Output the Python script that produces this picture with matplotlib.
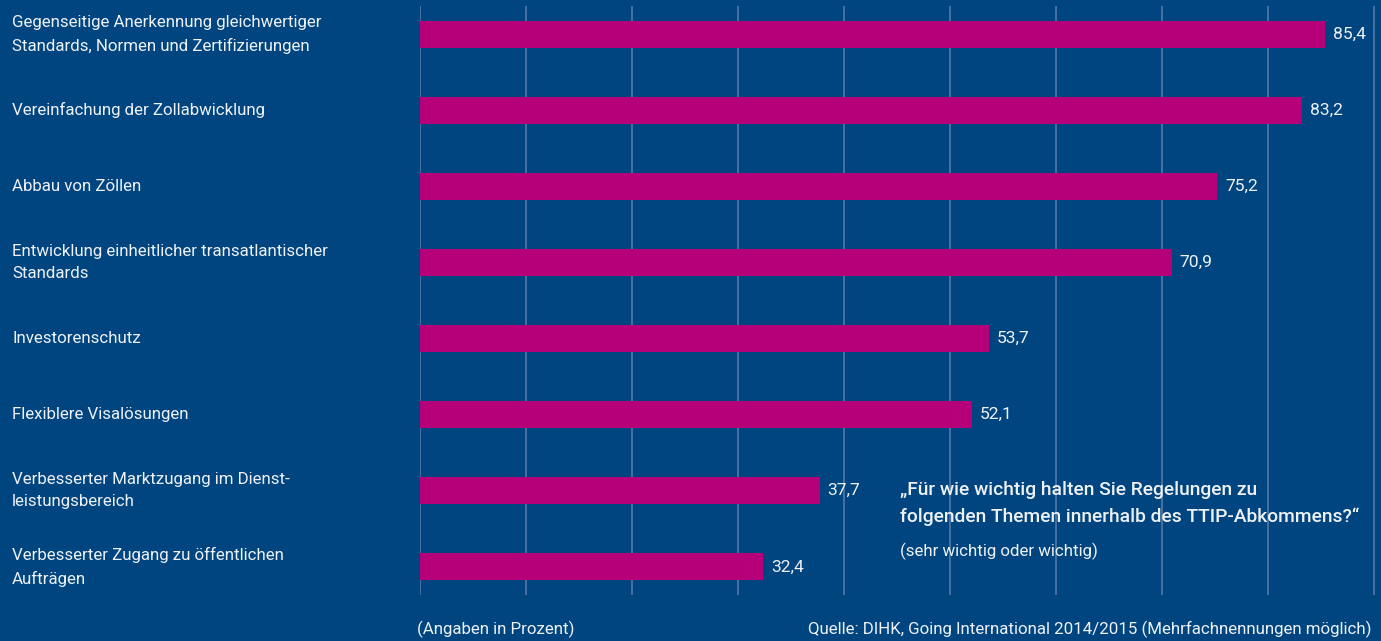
"""
TTIP survey bar chart (DIHK, Going International 2014/2015).
Horizontal bars on the dark blue house style background.
"""

import matplotlib
matplotlib.use("Agg")
import matplotlib.pyplot as plt
import matplotlib.transforms as mtransforms

# --- DATA ---
categories = [
    "Gegenseitige Anerkennung gleichwertiger\nStandards, Normen und Zertifizierungen",
    "Vereinfachung der Zollabwicklung",
    "Abbau von Zöllen",
    "Entwicklung einheitlicher transatlantischer\nStandards",
    "Investorenschutz",
    "Flexiblere Visalösungen",
    "Verbesserter Marktzugang im Dienst-\nleistungsbereich",
    "Verbesserter Zugang zu öffentlichen\nAufträgen",
]
values = [85.4, 83.2, 75.2, 70.9, 53.7, 52.1, 37.7, 32.4]
value_labels = ["85,4", "83,2", "75,2", "70,9", "53,7", "52,1", "37,7", "32,4"]
grid_ticks = [0, 10, 20, 30, 40, 50, 60, 70, 80, 90]

question = "„Für wie wichtig halten Sie Regelungen zu\nfolgenden Themen innerhalb des TTIP-Abkommens?“"
question_note = "(sehr wichtig oder wichtig)"
unit_note = "(Angaben in Prozent)"
source_note = "Quelle: DIHK, Going International 2014/2015 (Mehrfachnennungen möglich)"

# --- STYLE ---
BG = "#00457F"
BAR = "#B5007A"
GRID = "#5A7DA8"
TXT = "#EEF1F6"
FONT = "Roboto"
FS = 12.2

W, H = 1381, 641
fig = plt.figure(figsize=(W / 100, H / 100), dpi=100, facecolor=BG)
ax = fig.add_axes([420 / W, 1 - 595 / H, (W - 420) / W, 589 / H])
ax.set_facecolor(BG)

ypos = list(range(len(values)))
ax.barh(ypos, values, height=0.355, color=BAR, zorder=3)

# 10 units ~ 106 px, last grid line sits just inside the right edge
ax.set_xlim(0, 90.66)
ax.set_ylim(len(values) - 1 + 0.37, -0.37)
ax.set_xticks(grid_ticks)
ax.set_yticks([])
ax.tick_params(axis="x", length=0, labelbottom=False)
ax.grid(axis="x", color=GRID, linewidth=1.1, zorder=0)
for s in ax.spines.values():
    s.set_visible(False)

# value labels next to bar ends
for y, v, lab in zip(ypos, values, value_labels):
    ax.text(v + 0.75, y, lab, va="center", ha="left", color=TXT,
            fontsize=12.6, family=FONT, zorder=4)

# category labels at the left edge of the figure
trans = mtransforms.blended_transform_factory(fig.transFigure, ax.transData)
for y, cat in zip(ypos, categories):
    ax.text(12 / W, y, cat, transform=trans, va="center", ha="left",
            color=TXT, fontsize=FS, family=FONT, linespacing=1.6,
            clip_on=False)

# question box
fig.text(900 / W, 1 - 503.5 / H, question, va="center", ha="left", color=TXT,
         fontsize=13.9, family=FONT, fontweight="medium", linespacing=1.62)
fig.text(900 / W, 1 - 551 / H, question_note, va="center", ha="left",
         color=TXT, fontsize=FS, family=FONT)

# footer
fig.text(417 / W, 1 - 629 / H, unit_note, va="center", ha="left",
         color=TXT, fontsize=FS, family=FONT)
fig.text(1372 / W, 1 - 629 / H, source_note, va="center", ha="right",
         color=TXT, fontsize=FS, family=FONT)

fig.savefig("out.png", dpi=100, facecolor=BG)
